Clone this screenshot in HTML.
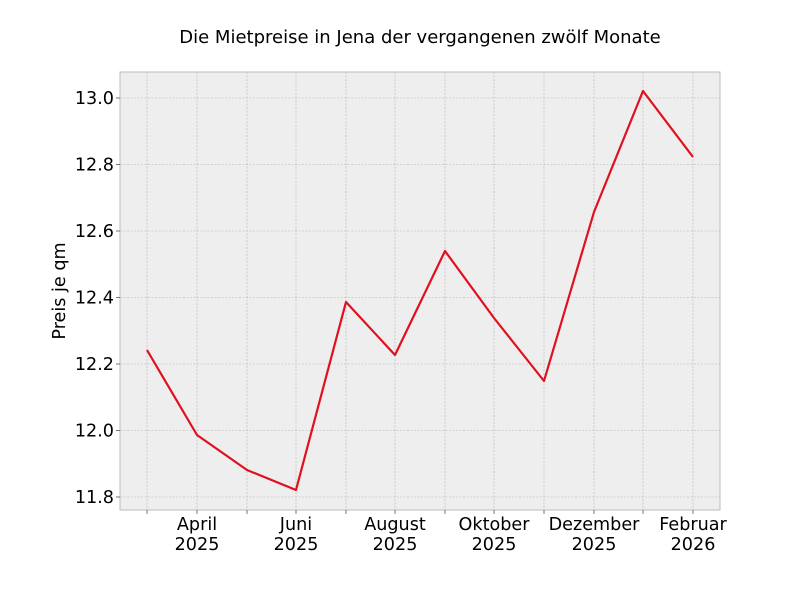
<!DOCTYPE html>
<html><head><meta charset="utf-8"><style>body{margin:0;background:#fff}</style></head><body>
<svg width="800" height="600" xmlns="http://www.w3.org/2000/svg" font-family="DejaVu Sans, Liberation Sans, sans-serif">
<rect width="800" height="600" fill="#fff"/>
<rect x="120" y="72" width="600" height="438" fill="#eeeeee" stroke="#bcbcbc" stroke-width="1"/>
<g stroke="#b4b4b4" stroke-width="0.6" stroke-dasharray="2,1.5">
<line x1="147" y1="72" x2="147" y2="510"/><line x1="197" y1="72" x2="197" y2="510"/><line x1="247" y1="72" x2="247" y2="510"/><line x1="296" y1="72" x2="296" y2="510"/><line x1="346" y1="72" x2="346" y2="510"/><line x1="395" y1="72" x2="395" y2="510"/><line x1="445" y1="72" x2="445" y2="510"/><line x1="494" y1="72" x2="494" y2="510"/><line x1="544" y1="72" x2="544" y2="510"/><line x1="594" y1="72" x2="594" y2="510"/><line x1="643" y1="72" x2="643" y2="510"/><line x1="693" y1="72" x2="693" y2="510"/>
<line x1="120" y1="98" x2="720" y2="98"/><line x1="120" y1="164.5" x2="720" y2="164.5"/><line x1="120" y1="231" x2="720" y2="231"/><line x1="120" y1="297.5" x2="720" y2="297.5"/><line x1="120" y1="364" x2="720" y2="364"/><line x1="120" y1="430.5" x2="720" y2="430.5"/><line x1="120" y1="497" x2="720" y2="497"/>
</g>
<g stroke="#555" stroke-width="0.8">
<line x1="147" y1="510" x2="147" y2="514"/><line x1="197" y1="510" x2="197" y2="514"/><line x1="247" y1="510" x2="247" y2="514"/><line x1="296" y1="510" x2="296" y2="514"/><line x1="346" y1="510" x2="346" y2="514"/><line x1="395" y1="510" x2="395" y2="514"/><line x1="445" y1="510" x2="445" y2="514"/><line x1="494" y1="510" x2="494" y2="514"/><line x1="544" y1="510" x2="544" y2="514"/><line x1="594" y1="510" x2="594" y2="514"/><line x1="643" y1="510" x2="643" y2="514"/><line x1="693" y1="510" x2="693" y2="514"/>
<line x1="116" y1="98" x2="120" y2="98"/><line x1="116" y1="164.5" x2="120" y2="164.5"/><line x1="116" y1="231" x2="120" y2="231"/><line x1="116" y1="297.5" x2="120" y2="297.5"/><line x1="116" y1="364" x2="120" y2="364"/><line x1="116" y1="430.5" x2="120" y2="430.5"/><line x1="116" y1="497" x2="120" y2="497"/>
</g>
<polyline fill="none" stroke="#e0101e" stroke-width="2.2" stroke-linejoin="round" points="147,350 197,435 247,470 296,490 346,302 395,355 445,251 494,318 544,381 594,212 643,91 693,157"/>
<g font-size="17.6" fill="#000" text-anchor="end">
<text x="114" y="104">13.0</text><text x="114" y="170.5">12.8</text><text x="114" y="237">12.6</text><text x="114" y="303.5">12.4</text><text x="114" y="370">12.2</text><text x="114" y="436.5">12.0</text><text x="114" y="503">11.8</text>
</g>
<g font-size="17.6" fill="#000" text-anchor="middle">
<text x="197" y="530">April</text><text x="197" y="550">2025</text>
<text x="296" y="530">Juni</text><text x="296" y="550">2025</text>
<text x="395" y="530">August</text><text x="395" y="550">2025</text>
<text x="494" y="530">Oktober</text><text x="494" y="550">2025</text>
<text x="594" y="530">Dezember</text><text x="594" y="550">2025</text>
<text x="693" y="530">Februar</text><text x="693" y="550">2026</text>
<text x="420" y="43" font-size="18">Die Mietpreise in Jena der vergangenen zwölf Monate</text>
<text transform="translate(65,291) rotate(-90)">Preis je qm</text>
</g>
</svg>
</body></html>
